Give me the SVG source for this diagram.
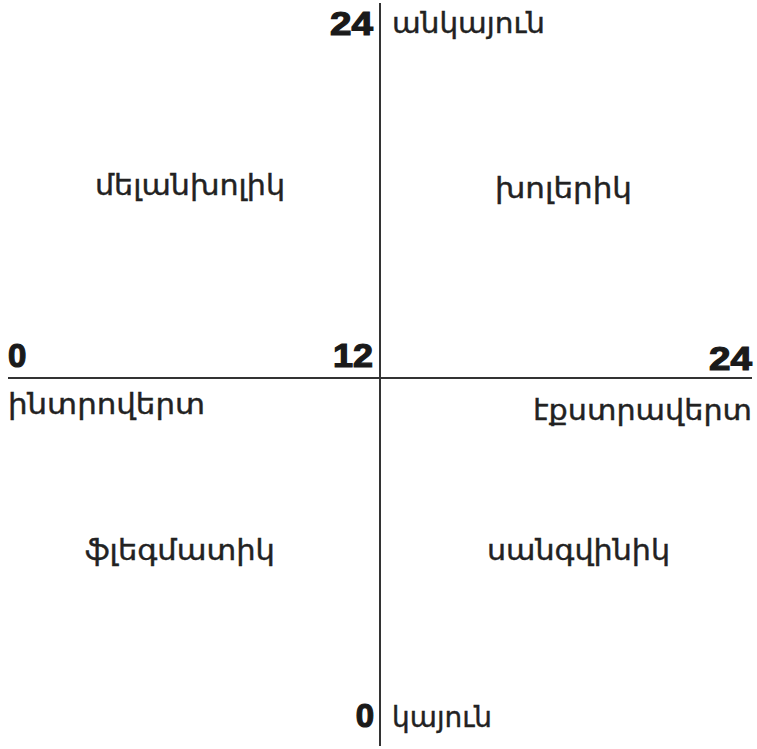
<svg xmlns="http://www.w3.org/2000/svg" width="757" height="749" viewBox="0 0 757 749">
<style>
.ax{stroke:#333;stroke-width:2;fill:none}
.num{font-family:"Liberation Sans",Arial,sans-serif;font-weight:bold;font-size:33px;fill:#1a1a1a;stroke:#1a1a1a;stroke-width:1.2}
.lbl{font-family:"DejaVu Sans","Noto Sans",sans-serif;font-size:29px;fill:#222;stroke:#222;stroke-width:0.4}
</style>
<rect width="757" height="749" fill="#fff"/>
<g id="axes" class="ax">
<line x1="380" y1="3" x2="380" y2="746"/>
<line x1="8" y1="378" x2="752" y2="378"/>
</g>
<g id="scale">
<text class="num" x="373" y="35" text-anchor="end" textLength="43" lengthAdjust="spacingAndGlyphs">24</text>
<text class="num" x="8" y="367">0</text>
<text class="num" x="373" y="367" text-anchor="end" textLength="40" lengthAdjust="spacingAndGlyphs">12</text>
<text class="num" x="752" y="370" text-anchor="end" textLength="43" lengthAdjust="spacingAndGlyphs">24</text>
<text class="num" x="374" y="727" text-anchor="end">0</text>
</g>
<g id="labels" class="lbl">
<text x="392" y="33" textLength="153" lengthAdjust="spacingAndGlyphs">անկայուն</text>
<text x="95" y="195" textLength="190" lengthAdjust="spacingAndGlyphs">մելանխոլիկ</text>
<text x="495" y="198" textLength="137" lengthAdjust="spacingAndGlyphs">խոլերիկ</text>
<text x="8" y="414" textLength="197" lengthAdjust="spacingAndGlyphs">ինտրովերտ</text>
<text x="533" y="420" textLength="219" lengthAdjust="spacingAndGlyphs">էքստրավերտ</text>
<text x="85" y="560" textLength="190" lengthAdjust="spacingAndGlyphs">ֆլեգմատիկ</text>
<text x="487" y="560" textLength="183" lengthAdjust="spacingAndGlyphs">սանգվինիկ</text>
<text x="392" y="727" textLength="100" lengthAdjust="spacingAndGlyphs">կայուն</text>
</g>
</svg>
